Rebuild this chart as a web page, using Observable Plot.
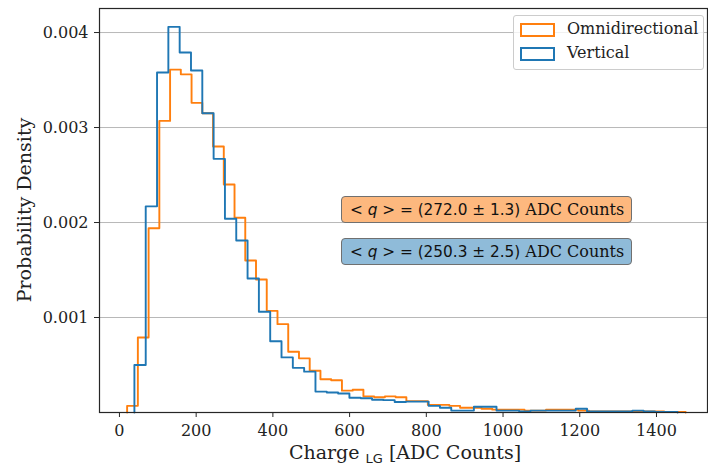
<!DOCTYPE html>
<html>
<head>
<meta charset="utf-8">
<script src="https://cdn.jsdelivr.net/npm/d3@7"></script>
<script src="https://cdn.jsdelivr.net/npm/@observablehq/plot@0.6"></script>
<style>
  html, body { margin: 0; padding: 0; background: #fff; }
  #wrap { position: relative; width: 708px; height: 465px; overflow: hidden; }
  .legend { position: absolute; left: 513px; top: 15px; width: 189px; height: 53px;
    border: 1px solid #cccccc; border-radius: 3px; background: rgba(255,255,255,0.8);
    font-family: "DejaVu Serif", serif; font-size: 16px; color: #222; }
  .legend .row { position: absolute; left: 6px; height: 14px; }
  .legend .patch { position: absolute; left: 0; top: 0; width: 31px; height: 10px; border: 2px solid; background: #fff; }
  .legend .lab { position: absolute; left: 47px; top: -4px; white-space: nowrap; line-height: 20px; }
  .ann { position: absolute; left: 341px; width: 289px; height: 25px; border: 1px solid #707070; border-radius: 4px;
    font-family: "DejaVu Serif", serif; font-size: 16px; color: #111; line-height: 25px; white-space: nowrap; text-indent: 8px; }
  .ann .m { font-family: "DejaVu Sans", sans-serif; font-size: 15.3px; }
</style>
</head>
<body>
<div id="wrap"></div>
<script>
// ---------- data ----------
const seriesNames = ["Omnidirectional", "Vertical"];
const seriesColors = ["#ff7f0e", "#1f77b4"];

// Omnidirectional histogram: first bin edge, bin width, densities per bin
const omniStart = 20;
const omniBinWidth = 28;
const omniDensity = [
  0.00007, 0.00079, 0.00194, 0.00307, 0.00361, 0.00356, 0.00326, 0.00315, 0.00280, 0.00240,
  0.00205, 0.00160, 0.00140, 0.00107, 0.00093, 0.00064, 0.00057, 0.00044, 0.00035, 0.00034,
  0.00023, 0.00024, 0.00017, 0.00016, 0.00017, 0.00016, 0.00012, 0.00012, 0.00008, 0.00008,
  0.00007, 0.00005, 0.00005, 0.00004, 0.00003, 0.00003, 0.00003, 0.00002, 0.00002, 0.00003,
  0.00003, 0.00003, 0.00002, 0.00001, 0.00001, 0.00001, 0.00001, 0.00001, 0.00001, 0.00001,
  0.000005, 0.000005
];

// Vertical histogram
const vertStart = 39;
const vertBinWidth = 29.5;
const vertDensity = [
  0.00050, 0.00217, 0.00358, 0.00406, 0.00379, 0.00360, 0.00315, 0.00267, 0.00204, 0.00181,
  0.00141, 0.00106, 0.00075, 0.00058, 0.00047, 0.00043, 0.00022, 0.00021, 0.00020, 0.000155,
  0.00015, 0.000135, 0.00013, 0.00011, 0.000115, 0.000115, 0.00007, 0.00005, 0.00002, 0.00002,
  0.00006, 0.00006, 0.00002, 0.00002, 0.00001, 0.00002, 0.00002, 0.00002, 0.00002, 0.00004,
  0.00001, 0.00001, 0.00001, 0.00001, 0.00002, 0.00001, 0.000005, 0.000005
];

const xTicks = [0, 200, 400, 600, 800, 1000, 1200, 1400];
const yTicks = [0.001, 0.002, 0.003, 0.004];
const annotations = [
  {mean: "272.0", err: "1.3", fill: "#fdb87e"},
  {mean: "250.3", err: "2.5", fill: "#8fbbd9"}
];

// ---------- build step outlines ----------
function outline(start, w, vals, name) {
  const pts = [{x: start, y: 0, s: name}];
  vals.forEach((v, i) => {
    pts.push({x: start + i * w, y: v, s: name});
    pts.push({x: start + (i + 1) * w, y: v, s: name});
  });
  pts.push({x: start + vals.length * w, y: 0, s: name});
  return pts;
}
const omniPts = outline(omniStart, omniBinWidth, omniDensity, seriesNames[0]);
const vertPts = outline(vertStart, vertBinWidth, vertDensity, seriesNames[1]);

const W = 708, H = 465;
const chart = Plot.plot({
  width: W, height: H,
  marginLeft: 99, marginRight: 1, marginTop: 8, marginBottom: 53,
  style: {fontFamily: "'DejaVu Serif', serif", fontSize: "16px", color: "#222", background: "#fff"},
  x: {domain: [-52, 1533]},
  y: {domain: [0, 0.004253]},
  marks: [
    Plot.gridY(yTicks, {stroke: "#b8b8b8", strokeOpacity: 1, strokeWidth: 1}),
    Plot.line(omniPts, {x: "x", y: "y", stroke: seriesColors[0], strokeWidth: 1.9, curve: "linear"}),
    Plot.line(vertPts, {x: "x", y: "y", stroke: seriesColors[1], strokeWidth: 1.9, curve: "linear"}),
    Plot.frame({stroke: "#262626", strokeWidth: 1.2}),
    Plot.axisX(xTicks, {tickSize: 5, tickPadding: 7, label: null, tickFormat: d => String(d), stroke: "#262626", fill: "#222"}),
    Plot.axisY(yTicks, {tickSize: 5, tickPadding: 6, label: null, tickFormat: d3.format(".3f"), stroke: "#262626", fill: "#222"})
  ]
});

const wrap = document.getElementById("wrap");
wrap.appendChild(chart);

// axis titles
const svg = d3.select(chart);
svg.append("text")
  .attr("transform", "translate(31,210) rotate(-90)")
  .attr("text-anchor", "middle")
  .style("font-family", "'DejaVu Serif', serif").style("font-size", "19px").attr("fill", "#222")
  .text("Probability Density");
const xl = svg.append("text")
  .attr("x", 405).attr("y", 459)
  .attr("text-anchor", "middle")
  .style("font-family", "'DejaVu Serif', serif").style("font-size", "19px").attr("fill", "#222");
xl.append("tspan").text("Charge ");
xl.append("tspan").attr("dy", 4).style("font-family", "'DejaVu Sans', sans-serif").style("font-size", "13px").text("LG");
xl.append("tspan").attr("dy", -4).text(" [ADC Counts]");

// legend
const leg = document.createElement("div");
leg.className = "legend";
seriesNames.forEach((n, i) => {
  const row = document.createElement("div");
  row.className = "row";
  row.style.top = (7 + i * 24) + "px";
  row.innerHTML = `<div class="patch" style="border-color:${seriesColors[i]}"></div><div class="lab">${n}</div>`;
  leg.appendChild(row);
});
wrap.appendChild(leg);

// annotation boxes
annotations.forEach((a, i) => {
  const d = document.createElement("div");
  d.className = "ann";
  d.style.top = (i === 0 ? 196 : 238) + "px";
  d.style.background = a.fill;
  d.innerHTML = `<span class="m">&lt; <i>q</i> &gt; = (${a.mean} ± ${a.err})</span> ADC Counts`;
  wrap.appendChild(d);
});
</script>
</body>
</html>
